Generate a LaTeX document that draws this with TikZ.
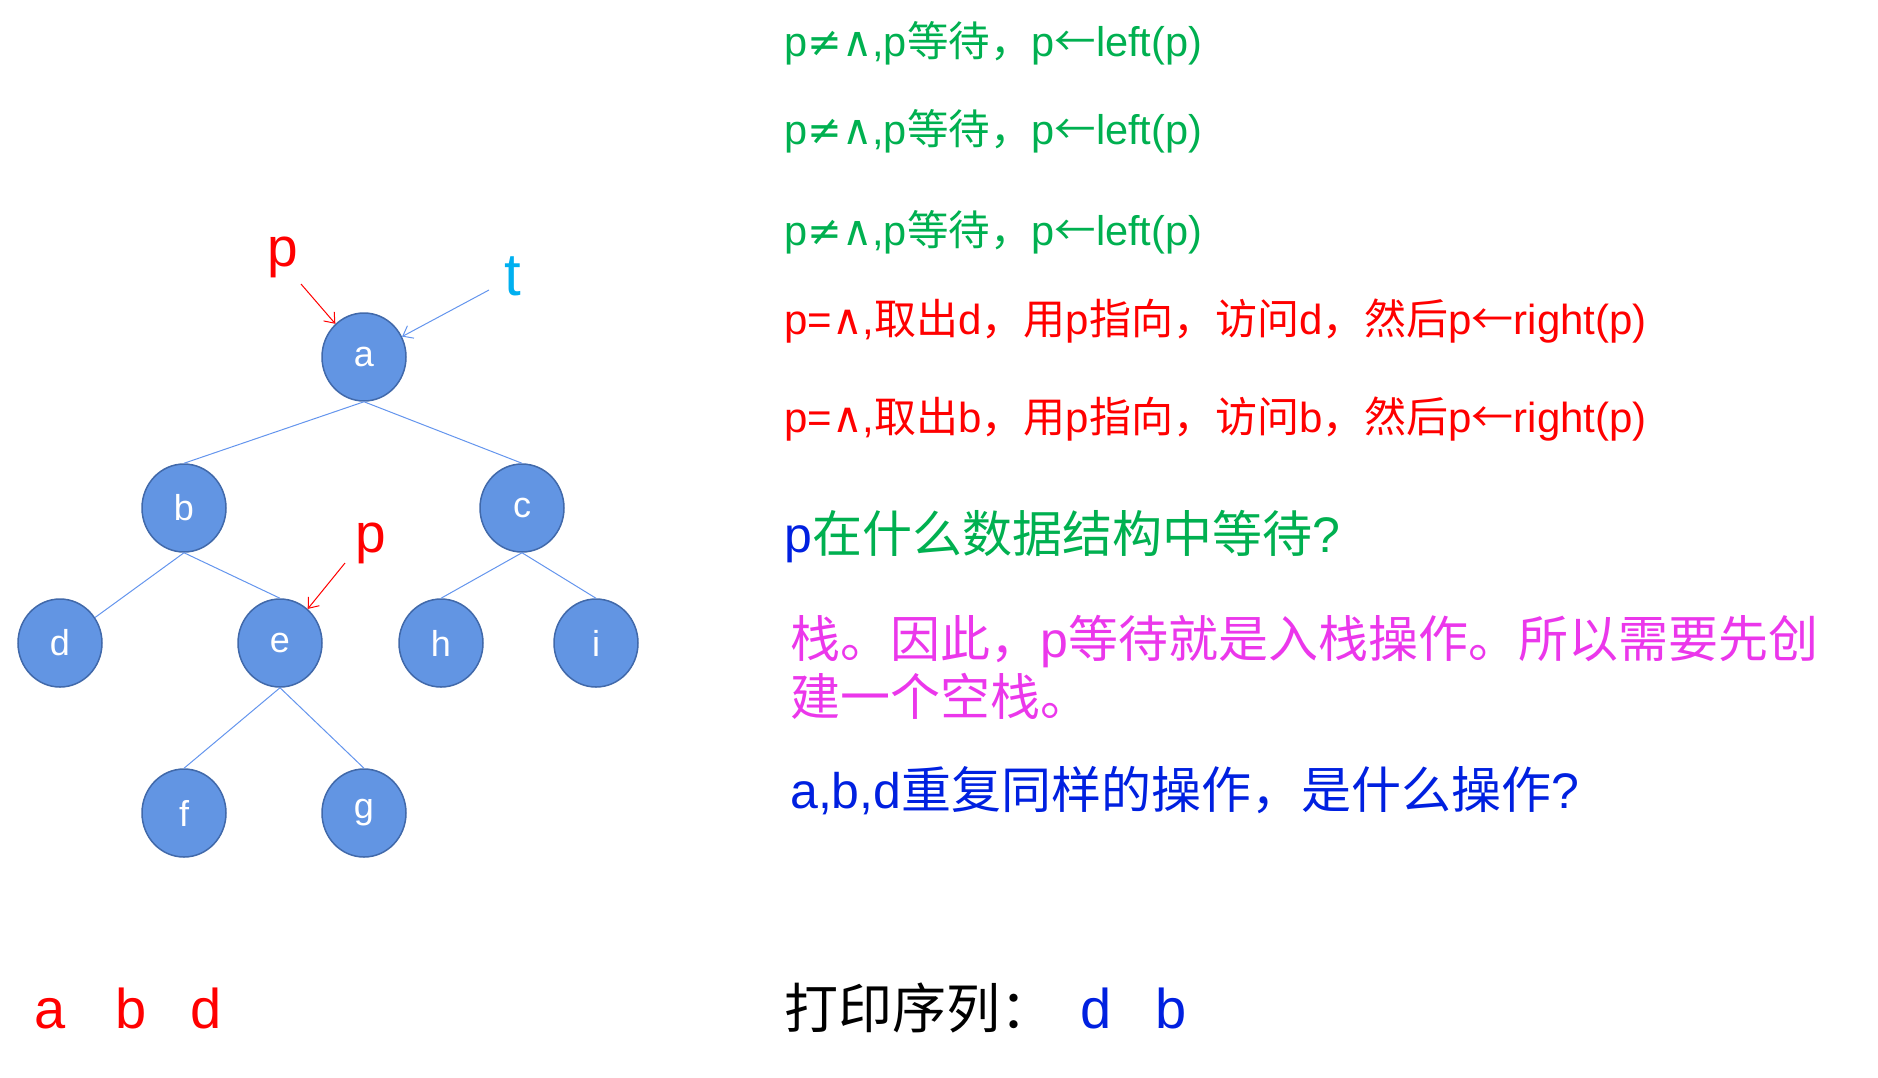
\documentclass[tikz,border=0pt]{standalone}
\usepackage{fontspec}
\setmainfont{Liberation Sans}
\newfontfamily\cjk{Noto Sans CJK SC}
\newfontfamily\dv{DejaVu Sans}
\usetikzlibrary{shapes.geometric,arrows.meta}
\definecolor{nodefill}{RGB}{98,149,227}
\definecolor{nodeborder}{RGB}{65,105,170}
\definecolor{edgeblue}{RGB}{100,149,237}
\definecolor{pgreen}{RGB}{0,176,80}
\definecolor{pred}{RGB}{255,0,0}
\definecolor{pcyan}{RGB}{0,176,240}
\definecolor{pblue}{RGB}{0,32,224}
\definecolor{pmag}{RGB}{235,55,235}
\tikzset{
  tnode/.style={ellipse, draw=nodeborder, fill=nodefill, line width=1.5pt,
    minimum width=84pt, minimum height=88pt, inner sep=0pt, text=white,
    font=\fontsize{36pt}{36pt}\selectfont},
  edge/.style={draw=edgeblue, line width=1pt},
  txt/.style={anchor=base west, inner sep=0pt},
  redarrow/.style={draw=pred, line width=1pt, -{Straight Barb[length=9pt,width=14pt]}},
  bluearrow/.style={draw=edgeblue, line width=1pt, -{Straight Barb[length=9pt,width=14pt]}},
  f42/.style={font=\fontsize{41.5pt}{50pt}\selectfont},
  f42r/.style={font=\fontsize{42pt}{50pt}\selectfont},
  f50/.style={font=\fontsize{50pt}{59pt}\selectfont},
}
\begin{document}
\begin{tikzpicture}[x=1pt,y=-1pt]
\useasboundingbox (0,0) rectangle (1878,1077);
% tree nodes
\node[tnode] (a) at (364,357) {a};
\node[tnode] (b) at (184,508) {b};
\node[tnode] (c) at (522,508) {c};
\node[tnode] (d) at (60,643) {d};
\node[tnode] (e) at (280,643) {e};
\node[tnode] (h) at (441,643) {h};
\node[tnode] (i) at (596,643) {i};
\node[tnode] (f) at (184,813) {f};
\node[tnode] (g) at (364,813) {g};
% edges
\draw[edge] (a.south) -- (b.north);
\draw[edge] (a.south) -- (c.north);
\draw[edge] (b.south) -- (d);
\draw[edge] (b.south) -- (e.north);
\draw[edge] (c.south) -- (h.north);
\draw[edge] (c.south) -- (i.north);
\draw[edge] (e.south) -- (f.north);
\draw[edge] (e.south) -- (g.north);
% pointer labels
\node[anchor=base, inner sep=0pt, text=pred, font=\fontsize{55pt}{55pt}\selectfont] (p1) at (283,266) {p};
\node[anchor=base, inner sep=0pt, text=pcyan, font=\fontsize{60pt}{60pt}\selectfont] (t1) at (513,295) {t};
\node[anchor=base, inner sep=0pt, text=pred, font=\fontsize{55pt}{55pt}\selectfont] (p2) at (371,552) {p};
\coordinate (p1s) at (301,284);
\coordinate (t1s) at (489,290);
\coordinate (p2s) at (345,563);
\draw[redarrow] (p1s) -- (a);
\draw[bluearrow] (t1s) -- (a);
\draw[redarrow] (p2s) -- (e);
% right texts
\node[txt, f42, text=pgreen] (l1) at (784,56) {p{\dv ≠∧},p{\cjk 等待，}p{\cjk ←}left(p)};
\node[txt, f42, text=pgreen] (l2) at (784,144) {p{\dv ≠∧},p{\cjk 等待，}p{\cjk ←}left(p)};
\node[txt, f42, text=pgreen] (l3) at (784,245) {p{\dv ≠∧},p{\cjk 等待，}p{\cjk ←}left(p)};
\node[txt, f42r, text=pred] (l4) at (784,334) {p={\dv ∧},{\cjk 取出}d{\cjk ，用}p{\cjk 指向，访问}d{\cjk ，然后}p{\cjk ←}right(p)};
\node[txt, f42r, text=pred] (l5) at (784,432) {p={\dv ∧},{\cjk 取出}b{\cjk ，用}p{\cjk 指向，访问}b{\cjk ，然后}p{\cjk ←}right(p)};
\node[txt, f50] (q1) at (784,552) {\textcolor{pblue}{p}\textcolor{pgreen}{{\cjk 在什么数据结构中等待}?}};
\node[txt, f50, text=pmag] (m1) at (790,657) {{\cjk 栈。因此，}p{\cjk 等待就是入栈操作。所以需要先创}};
\node[txt, f50, text=pmag] (m2) at (790,715) {{\cjk 建一个空栈。}};
\node[txt, f50, text=pblue] (q2) at (790,808) {a,b,d{\cjk 重复同样的操作，是什么操作}?};
% bottom
\node[anchor=base, inner sep=0pt, text=pred, font=\fontsize{56pt}{56pt}\selectfont] (ba) at (50,1028) {a};
\node[anchor=base, inner sep=0pt, text=pred, font=\fontsize{56pt}{56pt}\selectfont] (bb) at (131,1028) {b};
\node[anchor=base, inner sep=0pt, text=pred, font=\fontsize{56pt}{56pt}\selectfont] (bd) at (206,1028) {d};
\node[txt, font=\fontsize{54pt}{54pt}\selectfont] (pr) at (784,1028) {{\cjk 打印序列：}};
\node[anchor=base, inner sep=0pt, text=pblue, font=\fontsize{56pt}{56pt}\selectfont] (od) at (1096,1028) {d};
\node[anchor=base, inner sep=0pt, text=pblue, font=\fontsize{56pt}{56pt}\selectfont] (ob) at (1171,1028) {b};
\end{tikzpicture}
\end{document}
